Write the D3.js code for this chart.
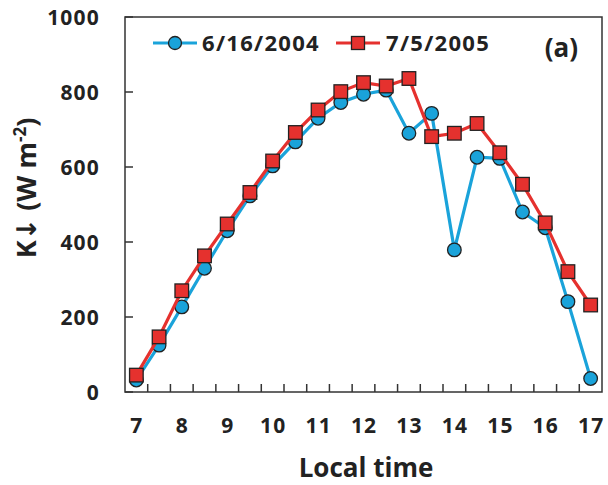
<!DOCTYPE html>
<html><head><meta charset="utf-8">
<script src="https://cdn.jsdelivr.net/npm/d3@7"></script>
<style>body{margin:0;background:#fff}svg{display:block}text{font-family:"Open Sans",sans-serif;font-weight:bold;fill:#222}</style>
</head><body><svg id="c" width="608" height="485"></svg>
<script>
const categories = [7,7.5,8,8.5,9,9.5,10,10.5,11,11.5,12,12.5,13,13.5,14,14.5,15,15.5,16,16.5,17];
const series2004 = [32,125,227,330,430,523,603,667,730,772,794,805,690,743,379,626,623,480,438,241,36];
const series2005 = [45,147,270,363,448,532,616,692,752,801,825,816,836,681,690,716,638,554,451,321,232];
const yTicks = [0,200,400,600,800,1000];
const xLabels = [7,8,9,10,11,12,13,14,15,16,17];
const names = ["6/16/2004","7/5/2005"];
const colors = ["#1AA3DA","#E5312E"];

const svg = d3.select("#c");
const L=125,R=602,T=17,B=392;
const x = d3.scaleBand().domain(categories).range([L,R]);
const y = d3.scaleLinear().domain([0,1000]).range([B,T]);
const cx = d => x(d)+x.bandwidth()/2;

// frame
svg.append("rect").attr("x",L).attr("y",T).attr("width",R-L).attr("height",B-T)
  .attr("fill","none").attr("stroke","#333").attr("stroke-width",1.5);

// y ticks (inside)
yTicks.forEach(v=>{
  svg.append("line").attr("x1",L).attr("x2",L+8).attr("y1",y(v)).attr("y2",y(v)).attr("stroke","#333").attr("stroke-width",1.5);
  svg.append("text").attr("x",L-25).attr("y",y(v)).attr("dy","0.36em").attr("text-anchor","end")
    .attr("font-size",21).attr("letter-spacing",1.2).text(v);
});
// x ticks at category boundaries
categories.forEach((c,i)=>{ if(i>0){
  const xx = x(c);
  svg.append("line").attr("x1",xx).attr("x2",xx).attr("y1",B).attr("y2",B-8).attr("stroke","#333").attr("stroke-width",1.5);
}});
xLabels.forEach(v=>{
  svg.append("text").attr("x",cx(v)+0.6).attr("y",B+41).attr("text-anchor","middle").attr("font-size",21).attr("letter-spacing",1.2).text(v);
});

// axis titles
svg.append("text").attr("x",366).attr("y",477).attr("text-anchor","middle").attr("font-size",26).text("Local time");
const yt = svg.append("text").attr("transform","translate(36,188) rotate(-90)").attr("text-anchor","middle").attr("font-size",27);
yt.append("tspan").text("K");
yt.append("tspan").attr("font-family","DejaVu Sans").attr("font-size",27).text("↓");
yt.append("tspan").text(" (W m");
yt.append("tspan").attr("dy",-10).attr("font-size",17).text("-2");
yt.append("tspan").attr("dy",10).text(")");

// series
const line = d3.line().x((d,i)=>cx(categories[i])).y(d=>y(d));
[series2004,series2005].forEach((s,k)=>{
  svg.append("path").attr("d",line(s)).attr("fill","none").attr("stroke",colors[k]).attr("stroke-width",3.2);
  const g = svg.append("g");
  s.forEach((v,i)=>{
    if(k===0) g.append("circle").attr("cx",cx(categories[i])).attr("cy",y(v)).attr("r",6.8)
      .attr("fill",colors[k]).attr("stroke","#222").attr("stroke-width",1.3);
    else g.append("rect").attr("x",cx(categories[i])-6.8).attr("y",y(v)-6.8).attr("width",13.6).attr("height",13.6)
      .attr("fill",colors[k]).attr("stroke","#222").attr("stroke-width",1.3);
  });
});

// legend
const leg = [[153,197,175,202],[336,380,358,386]];
leg.forEach((p,k)=>{
  const ly=43;
  svg.append("line").attr("x1",p[0]).attr("x2",p[1]).attr("y1",ly).attr("y2",ly).attr("stroke",colors[k]).attr("stroke-width",3.2);
  if(k===0) svg.append("circle").attr("cx",p[2]).attr("cy",ly).attr("r",6.5).attr("fill",colors[k]).attr("stroke","#222").attr("stroke-width",1.3);
  else svg.append("rect").attr("x",p[2]-6.5).attr("y",ly-6.5).attr("width",13).attr("height",13).attr("fill",colors[k]).attr("stroke","#222").attr("stroke-width",1.3);
  svg.append("text").attr("x",p[3]).attr("y",ly).attr("dy","0.36em").attr("font-size",22).attr("letter-spacing",1.3).text(names[k]);
});
svg.append("text").attr("x",578).attr("y",57).attr("text-anchor","end").attr("font-size",26).text("(a)");
</script></body></html>
